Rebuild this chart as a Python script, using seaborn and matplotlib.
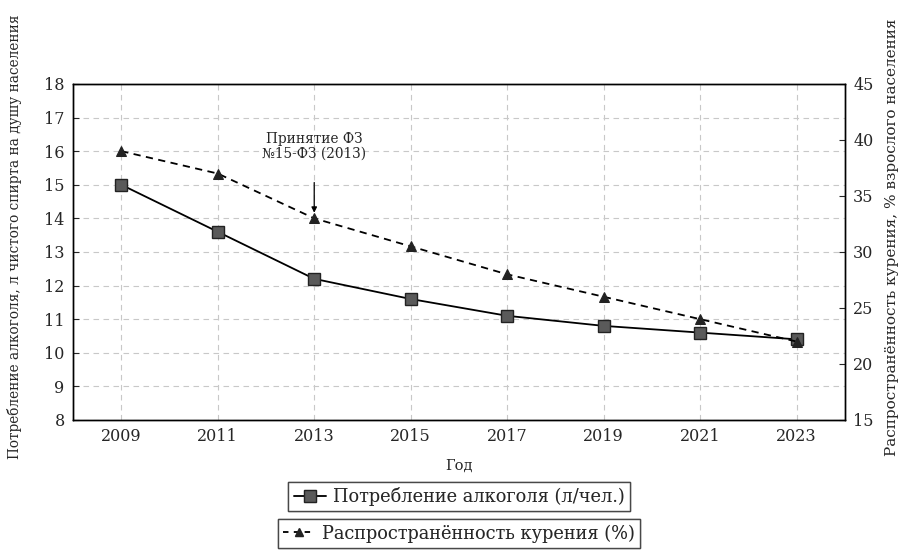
import matplotlib
matplotlib.use("Agg")
import matplotlib.pyplot as plt
import seaborn as sns
import pandas as pd
from matplotlib.lines import Line2D

years = [2009, 2011, 2013, 2015, 2017, 2019, 2021, 2023]
alcohol = [15.0, 13.6, 12.2, 11.6, 11.1, 10.8, 10.6, 10.4]
smoking = [39.0, 37.0, 33.0, 30.5, 28.0, 26.0, 24.0, 22.0]
left_ticks = [8, 9, 10, 11, 12, 13, 14, 15, 16, 17, 18]
right_ticks = [15, 20, 25, 30, 35, 40, 45]

alc_label = "Потребление алкоголя (л/чел.)"
smk_label = "Распространённость курения (%)"
xlabel = "Год"
ylabel_left = "Потребление алкоголя, л чистого спирта на душу населения"
ylabel_right = "Распространённость курения, % взрослого населения"
annot = "Принятие ФЗ\n№15-ФЗ (2013)"

sns.set_style("white")
plt.rcParams["font.family"] = ["DejaVu Serif"]
plt.rcParams["font.size"] = 10

df = pd.DataFrame({"year": years, "alcohol": alcohol, "smoking": smoking})

fig = plt.figure(figsize=(9.07, 5.5), dpi=100)
ax = fig.add_axes([0.0805, 0.2364, 0.851, 0.611])
ax2 = ax.twinx()

sns.lineplot(data=df, x="year", y="alcohol", ax=ax, color="black", lw=1.3,
             marker="s", markersize=9, markerfacecolor="#5a5a5a",
             markeredgecolor="#222222", markeredgewidth=1.0, zorder=5)
sns.lineplot(data=df, x="year", y="smoking", ax=ax2, color="black", lw=1.3,
             linestyle=(0, (4, 3)), marker="^", markersize=7,
             markerfacecolor="#222222", markeredgecolor="#222222", zorder=5)

ax.set_xlim(2008, 2024)
ax.set_ylim(8, 18)
ax2.set_ylim(15, 45)
ax.set_xticks(years)
ax.set_yticks(left_ticks)
ax2.set_yticks(right_ticks)
ax.grid(True, color="#c8c8c8", linestyle=(0, (5, 4)), linewidth=0.8)
ax2.grid(False)
ax.set_axisbelow(True)

ax.tick_params(direction="in", length=4, labelsize=11.5, pad=6)
ax2.tick_params(direction="in", length=4, labelsize=11.5, pad=6)
for a in (ax, ax2):
    for s in a.spines.values():
        s.set_color("black")
        s.set_linewidth(1.0)

ax.set_xlabel(xlabel, fontsize=10.5, labelpad=10)
ax.set_ylabel(ylabel_left, fontsize=9.8)
ax.yaxis.set_label_coords(-0.066, 0.545)
ax2.set_ylabel(ylabel_right, fontsize=11)
ax2.yaxis.set_label_coords(1.052, 0.545)

ax2.text(2013, 39.4, annot, ha="center", va="center", fontsize=9.8,
         linespacing=1.05)
ax2.annotate("", xy=(2013, 33.5), xytext=(2013, 36.2),
             arrowprops=dict(arrowstyle="-|>", color="black", lw=0.9,
                             shrinkA=0, shrinkB=0, mutation_scale=8))

h1 = Line2D([], [], color="black", lw=1.3, marker="s", markersize=8,
            markerfacecolor="#5a5a5a", markeredgecolor="#222222")
h2 = Line2D([], [], color="black", lw=1.3, linestyle=(0, (3, 3)), marker="^",
            markersize=6, markerfacecolor="#222222", markeredgecolor="#222222")
for h, lab, y in [(h1, alc_label, 0.097), (h2, smk_label, 0.03)]:
    leg = fig.legend([h], [lab], loc="center", bbox_to_anchor=(0.506, y),
                     fontsize=12.8, frameon=True, fancybox=False,
                     handlelength=1.8, handletextpad=0.4, borderpad=0.3)
    leg.get_frame().set_edgecolor("#333333")
    leg.get_frame().set_linewidth(1.0)
    fig.add_artist(leg)

fig.savefig("out.png", dpi=100)
